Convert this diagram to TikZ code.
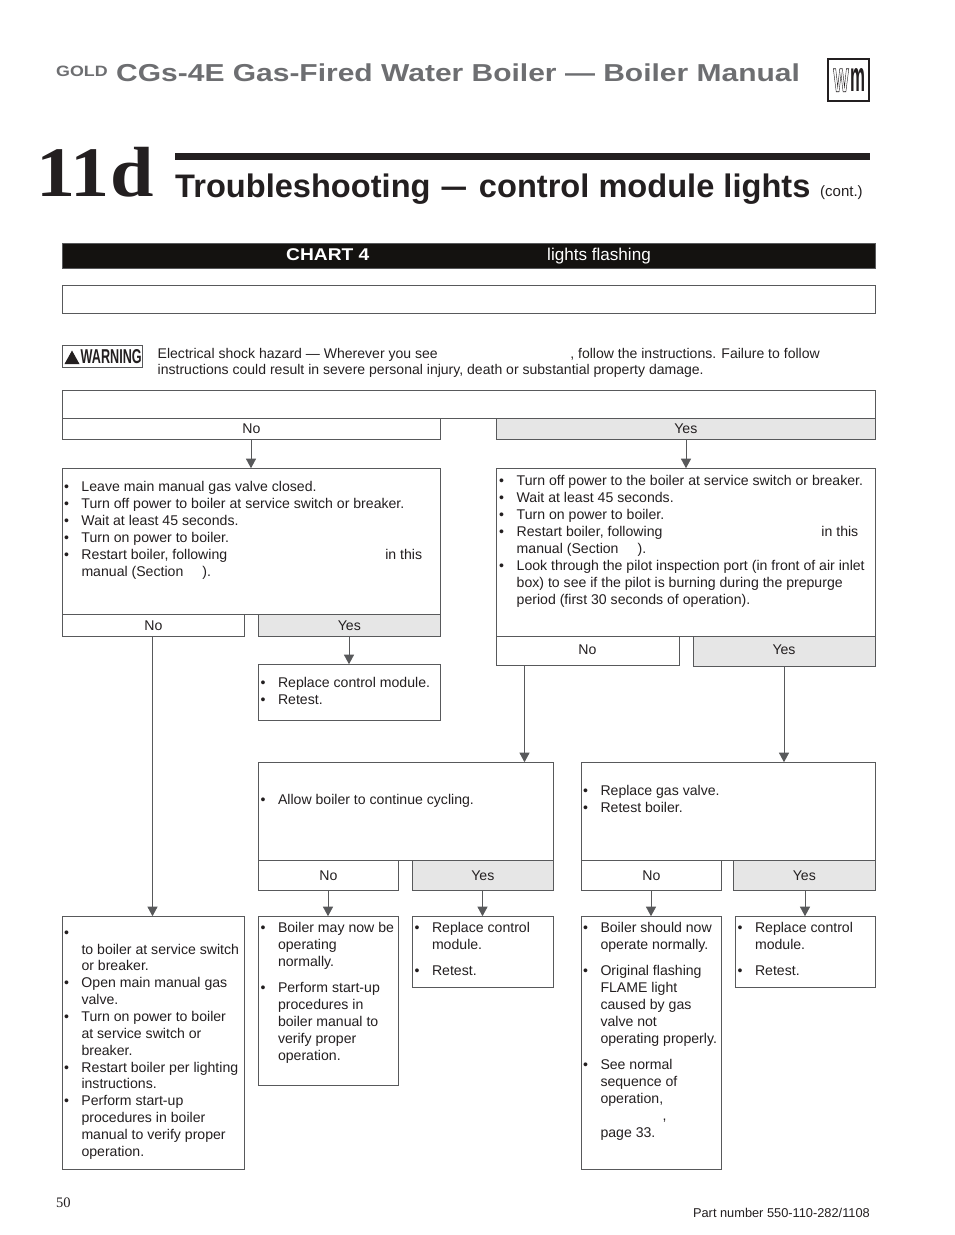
\documentclass[tikz,border=0pt]{standalone}
\usepackage{fontspec}
\setmainfont{Liberation Sans}
\newfontfamily\serifb{Liberation Serif}
\usetikzlibrary{arrows.meta}
\definecolor{ink}{HTML}{231F20}
\definecolor{barblk}{HTML}{141210}
\definecolor{boxln}{HTML}{58595B}
\definecolor{shade}{HTML}{E6E6E6}
\definecolor{headgray}{HTML}{6D6E71}
\newcommand{\B}{\hbox to 19.5pt{\hskip2pt•\hfil}}
\newcommand{\I}{\hspace*{19.5pt}}
\tikzset{
  bx/.style={draw=boxln,line width=0.9pt,fill=white,rectangle,inner sep=0pt,outer sep=0pt},
  yes/.style={bx,fill=shade},
  lb/.style={text=ink,font=\fontsize{14.1}{17}\selectfont,inner sep=0pt},
  tx/.style={lb,anchor=north west,align=left},
  arr/.style={draw=boxln,line width=0.9pt,shorten >=0.8pt,-{Triangle[length=9.5pt,width=10pt]}}
}
% style, x0, y0, x1, y1, name, label
\newcommand{\Bx}[7][bx]{%
  \node[#1,minimum width=#4pt-#2pt-0.8pt,minimum height=#5pt-#3pt,anchor=north west,xshift=0.25pt,yshift=0.7pt] (#6) at (#2,#3) {};
  \node[lb] at (#6.center) {#7};}
\begin{document}
\begin{tikzpicture}[x=1pt,y=-1pt]
\useasboundingbox (0,0) rectangle (954,1235);
% header
\node[anchor=base west,inner sep=0pt,text=headgray,font=\fontsize{15}{15}\selectfont\bfseries] (gold) at (56,76.5) {\scalebox{1.19}[1]{GOLD}};
\node[anchor=base west,inner sep=0pt,text=headgray,font=\fontsize{24.5}{24}\selectfont\bfseries] (title) at (116,81.5) {\scalebox{1.224}[1]{CGs-4E Gas-Fired Water Boiler — Boiler Manual}};
\node[bx,draw=ink,line width=1.6pt,minimum width=41pt,minimum height=42pt,anchor=north west] (logo) at (828,59) {};
\node[inner sep=0pt,anchor=south east,text=ink,font=\bfseries] (logow) at (849,92) {\resizebox{15.5pt}{23pt}{\special{pdf:code 1 Tr 0.25 w}W\special{pdf:code 0 Tr 1 w}}};
\node[inner sep=0pt,anchor=south west,text=ink,font=\bfseries] (logom) at (850,92) {\resizebox{15pt}{23pt}{m}};
\node[anchor=base west,inner sep=0pt,text=ink,font=\fontsize{71}{71}\selectfont\serifb\bfseries] (sec) at (36,196.7) {\scalebox{1.1}[1]{11d}};
\fill[ink] (175,153) rectangle (870,160);
\node[anchor=base west,inner sep=0pt,text=ink,font=\fontsize{32.6}{32}\selectfont\bfseries] (h) at (175,197) {Troubleshooting\hspace{11pt}\scalebox{0.75}[1]{—}\hspace{13pt}control module lights};
\node[anchor=base west,inner sep=0pt,text=ink,font=\fontsize{15}{17}\selectfont] (cont) at (820,196) {(cont.)};
% chart bar
\node[draw=boxln,fill=barblk,line width=0.9pt,minimum width=813.2pt,minimum height=25pt,anchor=north west,inner sep=0pt,xshift=0.25pt,yshift=0.7pt] (bar) at (62,244) {};
\node[anchor=base west,inner sep=0pt,text=white,font=\fontsize{17}{17}\selectfont\bfseries] (c4) at (286,260) {\scalebox{1.13}[1]{CHART 4}};
\node[anchor=base west,inner sep=0pt,text=white,font=\fontsize{17.1}{17}\selectfont] (lf) at (547,260) {lights flashing};
\Bx{62}{286}{876}{314}{sub}{}
% warning
\node[draw=boxln,line width=0.9pt,minimum width=80.2pt,minimum height=22pt,anchor=north west,inner sep=0pt,fill=white,xshift=0.25pt,yshift=0.7pt] (warn) at (62,346) {};
\node[inner sep=0pt,anchor=south west,text=ink,font=\bfseries] (warnt) at (80.5,363.5) {\resizebox{61pt}{14pt}{WARNING}};
\fill[ink] (64.5,364) -- (72,350.5) -- (79.5,364) -- cycle;
\node[tx,font=\fontsize{14.04}{16.5}\selectfont] (wtext) at (157.5,347.8) {Electrical shock hazard — Wherever you see\hspace{132.5pt}, follow the instructions. Failure to follow\\instructions could result in severe personal injury, death or substantial property damage.};
% top question
\Bx{62}{391}{876}{419}{q}{}
\Bx{62}{419}{441}{440}{qn}{No}
\Bx[yes]{496}{419}{876}{440}{qy}{Yes}
% left column
\Bx{62}{469}{441}{615}{a}{}
\node[tx] (at) at (61.8,481) {\B Leave main manual gas valve closed.\\\B Turn off power to boiler at service switch or breaker.\\\B Wait at least 45 seconds.\\\B Turn on power to boiler.\\\B Restart boiler, following\hspace{158pt}in this\\\I manual (Section\hspace{19pt}).};
\Bx{62}{615}{245}{637}{an}{No}
\Bx[yes]{258}{615}{441}{637}{ay}{Yes}
\Bx{258}{665}{441}{721}{b}{}
\node[tx] (bt) at (258.3,677) {\B Replace control module.\\\B Retest.};
% right column
\Bx{496}{469}{876}{637}{c}{}
\node[tx] (ct) at (497,475) {\B Turn off power to the boiler at service switch or breaker.\\\B Wait at least 45 seconds.\\\B Turn on power to boiler.\\\B Restart boiler, following\hspace{159pt}in this\\\I manual (Section\hspace{19pt}).\\\B Look through the pilot inspection port (in front of air inlet\\\I box) to see if the pilot is burning during the prepurge\\\I period (first 30 seconds of operation).};
\node[bx,minimum width=183.2pt,minimum height=29pt,anchor=north west,xshift=0.25pt,yshift=0.7pt] (cn) at (496,637) {};
\node[lb] at (587.5,649.5) {No};
\node[yes,minimum width=182.2pt,minimum height=30pt,anchor=north west,xshift=0.25pt,yshift=0.7pt] (cy) at (693,637) {};
\node[lb] at (784,650) {Yes};
% middle row
\Bx{258}{763}{554}{861}{d}{}
\node[tx] (dt) at (258.3,794) {\B Allow boiler to continue cycling.};
\Bx{258}{861}{399}{891}{dn}{No}
\Bx[yes]{412}{861}{554}{891}{dy}{Yes}
\Bx{581}{763}{876}{861}{e}{}
\node[tx] (et) at (580.8,785) {\B Replace gas valve.\\\B Retest boiler.};
\Bx{581}{861}{722}{891}{en}{No}
\Bx[yes]{733}{861}{876}{891}{ey}{Yes}
% bottom row
\Bx{62}{917}{245}{1170}{f}{}
\node[tx,font=\fontsize{14.1}{16.85}\selectfont] (ft) at (61.8,930.5) {\B\\\I to boiler at service switch\\\I or breaker.\\\B Open main manual gas\\\I valve.\\\B Turn on power to boiler\\\I at service switch or\\\I breaker.\\\B Restart boiler per lighting\\\I instructions.\\\B Perform start-up\\\I procedures in boiler\\\I manual to verify proper\\\I operation.};
\Bx{258}{917}{399}{1086}{g}{}
\node[tx] (gt) at (258.3,922) {\B Boiler may now be\\\I operating\\\I normally.\\[9pt]\B Perform start-up\\\I procedures in\\\I boiler manual to\\\I verify proper\\\I operation.};
\Bx{412}{917}{554}{988}{h2}{}
\node[tx] (ht) at (412.3,922) {\B Replace control\\\I module.\\[9pt]\B Retest.};
\Bx{581}{917}{722}{1170}{i}{}
\node[tx] (it) at (580.8,922) {\B Boiler should now\\\I operate normally.\\[9pt]\B Original flashing\\\I FLAME light\\\I caused by gas\\\I valve not\\\I operating properly.\\[9pt]\B See normal\\\I sequence of\\\I operation,\\\I\hspace{62pt},\\\I page 33.};
\Bx{735}{917}{876}{988}{j}{}
\node[tx] (jt) at (735.3,922) {\B Replace control\\\I module.\\[9pt]\B Retest.};
% footer
\node[anchor=base west,inner sep=0pt,text=ink,font=\fontsize{14.5}{17}\selectfont\serifb] (pg) at (56,1207) {50};
\node[anchor=base east,inner sep=0pt,text=ink,font=\fontsize{12.8}{15}\selectfont] (pn) at (870,1217) {Part number 550-110-282/1108};
% connectors
\coordinate (qn0) at (251,440); \coordinate (a0) at (251,469);
\coordinate (qy0) at (686,440); \coordinate (c0) at (686,469);
\coordinate (ay0) at (349,637); \coordinate (b0) at (349,665);
\coordinate (an0) at (152.5,637); \coordinate (f0) at (152.5,917);
\coordinate (cn0) at (524.5,666); \coordinate (d0) at (524.5,763);
\coordinate (cy0) at (784,667); \coordinate (e0) at (784,763);
\coordinate (dn0) at (328,891); \coordinate (g0) at (328,917);
\coordinate (dy0) at (482.5,891); \coordinate (h0) at (482.5,917);
\coordinate (en0) at (651,891); \coordinate (i0) at (651,917);
\coordinate (ey0) at (805,891); \coordinate (j0) at (805,917);
\foreach \s/\t in {qn0/a0,qy0/c0,ay0/b0,an0/f0,cn0/d0,cy0/e0,dn0/g0,dy0/h0,en0/i0,ey0/j0}
  \draw[arr] (\s) -- (\t);
\end{tikzpicture}
\end{document}
